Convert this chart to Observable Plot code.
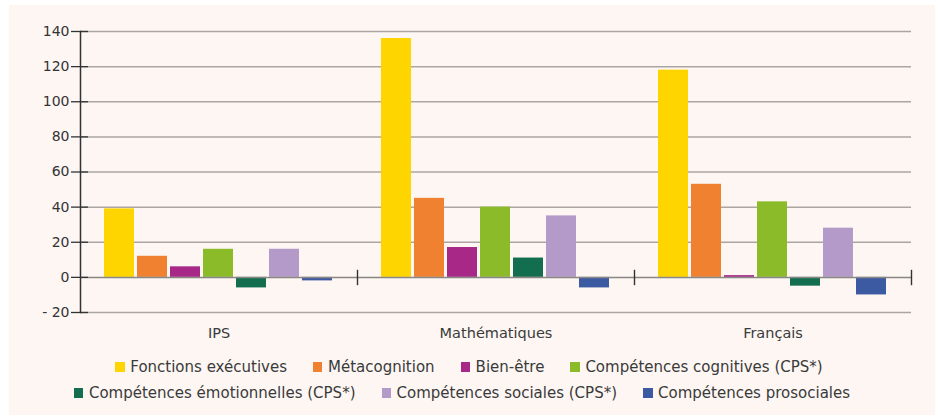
<!DOCTYPE html>
<html>
<head>
<meta charset="utf-8">
<script src="https://cdn.jsdelivr.net/npm/d3@7"></script>
<script src="https://cdn.jsdelivr.net/npm/@observablehq/plot@0.6"></script>
<style>
  html, body { margin: 0; padding: 0; background: #ffffff; }
  body { width: 938px; height: 419px; position: relative; overflow: hidden; font-family: "DejaVu Sans", sans-serif; }
  #panel { position: absolute; left: 9px; top: 5px; width: 926px; height: 410px; background: #fdf6f3; }
  #chart { position: absolute; left: 0; top: 0; }
  .legend-row { position: absolute; left: 0; width: 938px; display: flex; justify-content: center; align-items: center; font-size: 15px; color: #3a3a3a; white-space: nowrap; }
  .item { display: flex; align-items: center; margin: 0 13px; }
  .sw { width: 9.5px; height: 9.5px; margin-right: 5.5px; display: inline-block; }
</style>
</head>
<body>
<div id="panel"></div>
<div id="chart"></div>
<div id="legend1" class="legend-row" style="top:358px;"></div>
<div id="legend2" class="legend-row" style="top:384px; margin-left:-7px;"></div>
<script>
const categories = ["IPS", "Mathématiques", "Français"];
const series = [
  "Fonctions exécutives",
  "Métacognition",
  "Bien-être",
  "Compétences cognitives (CPS*)",
  "Compétences émotionnelles (CPS*)",
  "Compétences sociales (CPS*)",
  "Compétences prosociales"
];
const colors = ["#ffd500", "#f08131", "#a72887", "#8bbb29", "#136e50", "#b49ac8", "#3c5aa2"];
const ipsValues = [39, 12, 6, 16, -6, 16, -2];
const mathsValues = [136, 45, 17, 40, 11, 35, -6];
const francaisValues = [118, 53, 1, 43, -5, 28, -10];
const yTicks = [-20, 0, 20, 40, 60, 80, 100, 120, 140];

const valuesByCategory = [ipsValues, mathsValues, francaisValues];
const data = [];
categories.forEach((c, i) => {
  series.forEach((s, j) => data.push({category: c, series: s, value: valuesByCategory[i][j]}));
});

const fmt = d => d < 0 ? "- " + Math.abs(d) : String(d);

const plot = Plot.plot({
  width: 938,
  height: 350,
  marginLeft: 79,
  marginRight: 27,
  marginTop: 31,
  marginBottom: 38,
  style: {background: "transparent", fontFamily: "DejaVu Sans, sans-serif", color: "#333333", overflow: "visible"},
  fx: {domain: categories, padding: 0, label: null},
  x: {domain: series, paddingInner: 0.08, paddingOuter: 0.65, axis: null},
  y: {domain: [-20, 140], axis: null, label: null},
  color: {domain: series, range: colors},
  marks: [
    Plot.ruleY(yTicks.filter(d => d !== 0), {stroke: "#aba6a3", strokeWidth: 1.5}),
    Plot.barY(data, {fx: "category", x: "series", y: "value", fill: "series"}),
    Plot.ruleY([0], {stroke: "#8a8684", strokeWidth: 1.5}),
    Plot.frame({anchor: "right", insetTop: 239, insetBottom: 28, stroke: "#333333", strokeWidth: 1.4}),
    Plot.frame({anchor: "left", facetAnchor: "left", stroke: "#333333", strokeWidth: 1.5}),
    Plot.axisY({ticks: yTicks, tickFormat: fmt, label: null, tickSize: 17, dx: 8, tickPadding: 2, fontSize: 14, stroke: "#333333", strokeWidth: 1.3, fill: "#333333"}),
    Plot.axisFx({anchor: "bottom", tickSize: 0, tickPadding: 15, fontSize: 14.5, label: null, fill: "#3a3a3a"})
  ]
});
document.getElementById("chart").appendChild(plot);

function makeLegend(el, idxs) {
  idxs.forEach(i => {
    const item = document.createElement("div");
    item.className = "item";
    const sw = document.createElement("span");
    sw.className = "sw";
    sw.style.background = colors[i];
    const t = document.createElement("span");
    t.textContent = series[i];
    item.appendChild(sw);
    item.appendChild(t);
    el.appendChild(item);
  });
}
makeLegend(document.getElementById("legend1"), [0, 1, 2, 3]);
makeLegend(document.getElementById("legend2"), [4, 5, 6]);
</script>
</body>
</html>
